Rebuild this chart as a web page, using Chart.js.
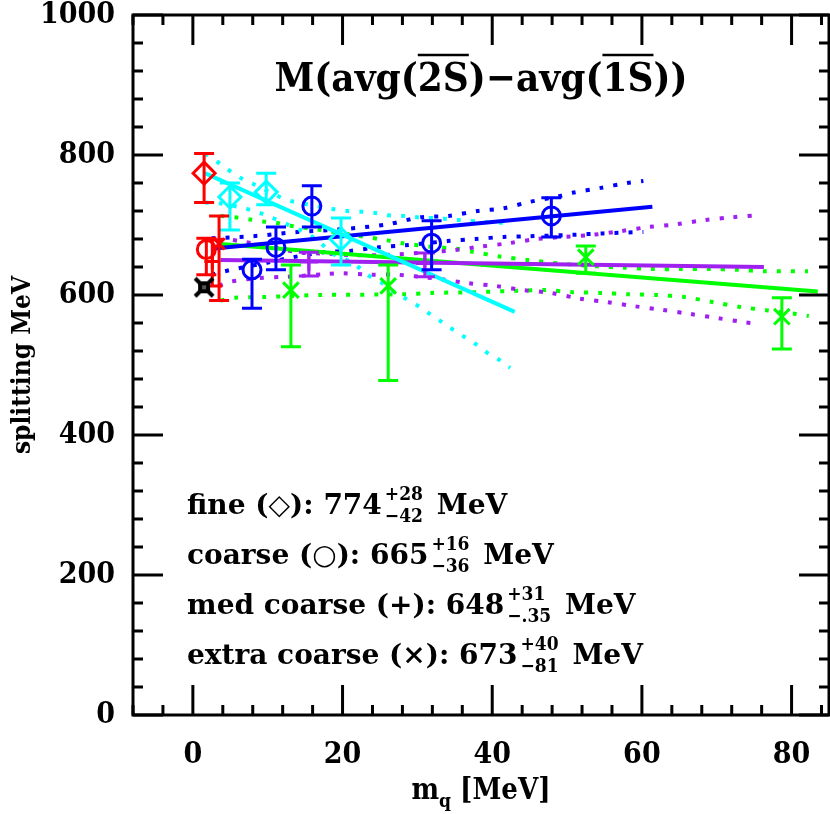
<!DOCTYPE html>
<html>
<head>
<meta charset="utf-8">
<script src="https://cdn.jsdelivr.net/npm/chart.js@4"></script>
<style>
  html, body { margin: 0; padding: 0; background: #fff; }
  canvas { display: block; }
</style>
</head>
<body>
<canvas id="c" width="830" height="814"></canvas>
<script>
// axis setup
const xRange = [-8, 85];
const yRange = [0, 1000];
const xTicks = [0, 20, 40, 60, 80];
const yTicks = [0, 200, 400, 600, 800, 1000];
const xMinorStep = 4;
const yMinorStep = 40;

// fine lattice (cyan diamonds)
const fineX = [4.95, 9.8, 19.8];
const fineY = [740, 747, 680];
const fineUp = [20, 27, 30];
const fineDn = [47, 18, 37];
const fineFitX = [1.6, 43];
const fineFitY = [774, 576];
const fineHiX = [1.6, 3.3, 4.7, 6.4, 8, 11.4, 13.2, 18.6, 20.6, 22.5, 24.4, 26.1, 28.1, 30, 33.6, 35.5, 39.4, 41.5];
const fineHiY = [802, 790, 779, 767, 759, 741, 734, 723, 720, 719, 717, 714, 713, 711, 709, 707, 704, 703];
const fineLoX = [1.6, 3.6, 7.2, 9, 10.7, 12.6, 14.3, 16, 17.4, 19, 20.6, 22.1, 23.6, 25.3, 26.8, 28.4, 30, 31.5, 33.2, 34.7, 36.3, 37.9, 39.4, 41, 42.4];
const fineLoY = [732, 731, 723, 717, 710, 701, 693, 683, 671, 657, 650, 640, 627, 617, 605, 595, 585, 574, 562, 551, 540, 529, 517, 507, 496];

// coarse lattice (blue circles)
const coarseX = [7.9, 11.1, 15.9, 31.9, 47.9];
const coarseY = [636, 668, 727, 674, 713];
const coarseUp = [15, 29, 29, 32, 26];
const coarseDn = [55, 32, 30, 38, 30];
const coarseFitX = [2.5, 61.4];
const coarseFitY = [666, 726];
const coarseHiX = [2.5, 8, 14, 20, 26, 30.4, 34.2, 38, 41.5, 45, 48.9, 50.7, 54.5, 58, 60.2];
const coarseHiY = [681, 684, 690, 694, 701, 711, 713, 720, 724, 733, 741, 746, 753, 760, 763];
const coarseLoX = [2.5, 4.3, 6, 9.9, 13.4, 17.4, 21, 24.6, 28.4, 34, 37.8, 41.5, 45.1, 50.7, 54.8, 60.2];
const coarseLoY = [629, 634, 638, 646, 654, 661, 663, 668, 671, 677, 680, 683, 684, 686, 688, 690];

// medium coarse lattice (purple pluses)
const medX = [15.5, 31];
const medY = [647, 645];
const medUp = [14, 15];
const medDn = [20, 19];
const medFitX = [3.7, 76.3];
const medFitY = [650, 640];
const medHiX = [3.5, 5, 6.7, 10.3, 14, 17.9, 21.4, 25, 30, 34.8, 38.4, 42.2, 46, 49.5, 53.4, 57, 60.8, 64.6, 68.3, 72, 75.8];
const medHiY = [679, 679, 676, 670, 661, 659, 657, 657, 660, 664, 669, 674, 680, 683, 686, 691, 697, 701, 707, 711, 714];
const medLoX = [3.5, 5, 8.7, 12.3, 14.1, 18, 19.9, 23.7, 27.3, 32.8, 36.7, 40.4, 44.2, 47.8, 51.6, 55.3, 59, 62.6, 66.4, 70.1, 73.8, 75.6];
const medLoY = [613, 619, 624, 626, 627, 630, 631, 629, 629, 623, 617, 613, 607, 603, 595, 590, 584, 579, 573, 567, 561, 559];

// extra coarse lattice (green crosses)
const xcoarseX = [13.1, 26.1, 52.5, 78.7];
const xcoarseY = [607, 613, 654, 569];
const xcoarseUp = [36, 30, 16, 27];
const xcoarseDn = [81, 135, 23, 46];
const xcoarseFitX = [3.7, 83.5];
const xcoarseFitY = [673, 605];
const xcoarseHiX = [3.7, 5.6, 7.6, 9.4, 11.2, 13, 17, 22.5, 26, 28, 31.7, 35.3, 37.3, 41, 44.7, 49, 54, 57.6, 61.6, 65.2, 69, 72.8, 76.4, 82.2];
const xcoarseHiY = [713, 711, 708, 705, 703, 699, 693, 684, 678, 674, 669, 666, 662, 655, 650, 645, 641, 639, 637, 637, 637, 636, 634, 634];
const xcoarseLoX = [3.7, 5.6, 9.4, 17, 28, 32, 37.5, 43.4, 47, 50.7, 54.5, 58.2, 62, 65.7, 69.4, 73.1, 76.8, 80.6, 82.3];
const xcoarseLoY = [592, 596, 597, 600, 601, 603, 604, 606, 607, 604, 603, 601, 600, 597, 590, 583, 578, 573, 570];

// chiral extrapolations (red) and reference value (black)
const extrapX = [1.5, 1.8, 2.6, 3.5];
const extrapY = [774, 665, 648, 673];
const extrapUp = [28, 16, 31, 40];
const extrapDn = [42, 36, 35, 81];
const expX = [1.5];
const expY = [611];

const annotations = [
  { label: 'fine (\u25C7): ', val: '774', up: '+28', dn: '\u221242' },
  { label: 'coarse (\u25CB): ', val: '665', up: '+16', dn: '\u221236' },
  { label: 'med coarse (+): ', val: '648', up: '+31', dn: '\u2212.35' },
  { label: 'extra coarse (\u00D7): ', val: '673', up: '+40', dn: '\u221281' }
];

const CYAN = '#00ffff', BLUE = '#0000ff', PURPLE = '#a020f0', GREEN = '#00ff00', RED = '#ff0000';
const FAM = '"DejaVu Serif Condensed", "DejaVu Serif", serif';
const FAM_WIDE = '"DejaVu Serif", serif';

const pts = (xs, ys) => xs.map((x, i) => ({ x, y: ys[i] }));

function fitLine(xs, ys, color) {
  return { type: 'line', data: pts(xs, ys), borderColor: color, borderWidth: 4,
    pointRadius: 0, fill: false, tension: 0, order: 5 };
}
function band(xs, ys, color) {
  return { type: 'line', data: pts(xs, ys), borderColor: color, borderWidth: 4,
    borderDash: [4, 10], borderCapStyle: 'butt', pointRadius: 0, fill: false,
    tension: 0.3, order: 6 };
}
function marks(xs, ys, up, dn, color, style, r) {
  return { type: 'scatter', data: pts(xs, ys), errUp: up, errDn: dn,
    borderColor: color, backgroundColor: 'rgba(0,0,0,0)', pointStyle: style,
    pointRadius: r, pointBorderWidth: 3, order: 2 };
}

// black burst marker
const burst = document.createElement('canvas');
burst.width = 22; burst.height = 22;
(function () {
  const b = burst.getContext('2d');
  b.strokeStyle = '#000'; b.lineWidth = 4;
  b.beginPath(); b.moveTo(2, 2); b.lineTo(20, 20); b.moveTo(20, 2); b.lineTo(2, 20); b.stroke();
  b.fillStyle = '#000'; b.fillRect(5, 5, 12, 12);
  b.fillStyle = '#555'; b.fillRect(9, 9, 4, 4);
})();

const datasets = [
  band(fineHiX, fineHiY, CYAN), band(fineLoX, fineLoY, CYAN),
  band(coarseHiX, coarseHiY, BLUE), band(coarseLoX, coarseLoY, BLUE),
  band(medHiX, medHiY, PURPLE), band(medLoX, medLoY, PURPLE),
  band(xcoarseHiX, xcoarseHiY, GREEN), band(xcoarseLoX, xcoarseLoY, GREEN),
  fitLine(fineFitX, fineFitY, CYAN), fitLine(coarseFitX, coarseFitY, BLUE),
  fitLine(medFitX, medFitY, PURPLE), fitLine(xcoarseFitX, xcoarseFitY, GREEN),
  marks(fineX, fineY, fineUp, fineDn, CYAN, 'rectRot', 11),
  marks(coarseX, coarseY, coarseUp, coarseDn, BLUE, 'circle', 9),
  marks(medX, medY, medUp, medDn, PURPLE, 'cross', 9),
  marks(xcoarseX, xcoarseY, xcoarseUp, xcoarseDn, GREEN, 'crossRot', 11),
  Object.assign(marks(extrapX, extrapY, extrapUp, extrapDn, RED,
    ['rectRot', 'circle', 'cross', 'crossRot'], [11, 9, 8, 8]), { order: 1 }),
  { type: 'scatter', data: pts(expX, expY), pointStyle: burst, pointRadius: 11, order: 0 }
];

// error bars, drawn right after their own dataset
const errorBars = {
  id: 'errorBars',
  afterDatasetDraw(chart, args) {
    const ds = chart.data.datasets[args.index];
    if (!ds.errUp) return;
    const { ctx, scales: { x, y } } = chart;
    ctx.save();
    ctx.strokeStyle = ds.borderColor; ctx.lineWidth = 3; ctx.lineCap = 'butt';
    ds.data.forEach((p, i) => {
      const px = x.getPixelForValue(p.x);
      const top = y.getPixelForValue(p.y + ds.errUp[i]);
      const bot = y.getPixelForValue(p.y - ds.errDn[i]);
      ctx.beginPath();
      ctx.moveTo(px, top); ctx.lineTo(px, bot);
      ctx.moveTo(px - 10, top); ctx.lineTo(px + 10, top);
      ctx.moveTo(px - 10, bot); ctx.lineTo(px + 10, bot);
      ctx.stroke();
    });
    ctx.restore();
  }
};

// frame with inward ticks on all sides
const frame = {
  id: 'frame',
  afterDatasetsDraw(chart) {
    const { ctx, chartArea: a, scales: { x, y } } = chart;
    ctx.save();
    ctx.strokeStyle = '#000'; ctx.lineWidth = 3;
    ctx.strokeRect(a.left, a.top, a.right - a.left, a.bottom - a.top);
    ctx.beginPath();
    for (let v = Math.ceil(xRange[0] / xMinorStep) * xMinorStep; v <= xRange[1]; v += xMinorStep) {
      const len = v % 20 === 0 ? 30 : 10;
      const px = x.getPixelForValue(v);
      ctx.moveTo(px, a.bottom); ctx.lineTo(px, a.bottom - len);
      ctx.moveTo(px, a.top); ctx.lineTo(px, a.top + len);
    }
    for (let v = yRange[0]; v <= yRange[1]; v += yMinorStep) {
      const len = v % 200 === 0 ? 30 : 10;
      const py = y.getPixelForValue(v);
      ctx.moveTo(a.left, py); ctx.lineTo(a.left + len, py);
      ctx.moveTo(a.right, py); ctx.lineTo(a.right - len, py);
    }
    ctx.stroke();
    ctx.restore();
  }
};

// titles and the extrapolation summary
const texts = {
  id: 'texts',
  afterDraw(chart) {
    const { ctx, chartArea: a } = chart;
    ctx.save();
    ctx.fillStyle = '#000'; ctx.strokeStyle = '#000';
    ctx.textBaseline = 'alphabetic'; ctx.textAlign = 'left';

    // title with overlines
    ctx.font = 'bold 40px ' + FAM;
    const parts = ['M(avg(', '2S', ')\u2212avg(', '1S', '))'];
    const total = parts.reduce((s, t) => s + ctx.measureText(t).width, 0);
    let tx = (a.left + a.right) / 2 - total / 2;
    const ty = 91;
    parts.forEach((t, i) => {
      const w = ctx.measureText(t).width;
      ctx.fillText(t, tx, ty);
      if (i === 1 || i === 3) {
        ctx.lineWidth = 2.5;
        ctx.beginPath(); ctx.moveTo(tx, ty - 36); ctx.lineTo(tx + w, ty - 36); ctx.stroke();
      }
      tx += w;
    });

    // summary lines
    annotations.forEach((an, i) => {
      const by = 514 + i * 50;
      let lx = 187;
      ctx.font = 'bold 28px ' + FAM_WIDE;
      const main = an.label + an.val;
      ctx.fillText(main, lx, by);
      lx += ctx.measureText(main).width + 3;
      ctx.font = 'bold 19px ' + FAM;
      ctx.fillText(an.up, lx, by - 14);
      ctx.fillText(an.dn, lx, by + 8);
      lx += Math.max(ctx.measureText(an.up).width, ctx.measureText(an.dn).width) + 4;
      ctx.font = 'bold 28px ' + FAM_WIDE;
      ctx.fillText(' MeV', lx, by);
    });

    // x axis title
    ctx.font = 'bold 29px ' + FAM;
    const m = 'm', rest = ' [MeV]';
    const wm = ctx.measureText(m).width, wr = ctx.measureText(rest).width;
    ctx.font = 'bold 19px ' + FAM;
    const wq = ctx.measureText('q').width;
    let ax = (a.left + a.right) / 2 - (wm + wq + wr) / 2;
    ctx.font = 'bold 29px ' + FAM;
    ctx.fillText(m, ax, 799); ax += wm;
    ctx.font = 'bold 19px ' + FAM;
    ctx.fillText('q', ax, 807); ax += wq;
    ctx.font = 'bold 29px ' + FAM;
    ctx.fillText(rest, ax, 799);

    // y axis title
    ctx.translate(30, (a.top + a.bottom) / 2);
    ctx.rotate(-Math.PI / 2);
    ctx.textAlign = 'center';
    ctx.font = 'bold 26px ' + FAM;
    ctx.fillText('splitting MeV', 0, 0);
    ctx.restore();
  }
};

const tickFont = { family: FAM, size: 30, weight: 'bold' };

new Chart(document.getElementById('c'), {
  type: 'scatter',
  data: { datasets },
  options: {
    responsive: false,
    animation: false,
    layout: { autoPadding: false, padding: { top: 15, right: 1, left: 0, bottom: 0 } },
    plugins: { legend: { display: false }, tooltip: { enabled: false } },
    scales: {
      x: {
        type: 'linear', min: xRange[0], max: xRange[1],
        grid: { display: false }, border: { display: false },
        afterBuildTicks: s => { s.ticks = xTicks.map(v => ({ value: v })); },
        afterFit: s => { s.height = 99; s.paddingLeft = 0; s.paddingRight = 0; },
        ticks: { font: tickFont, color: '#000', padding: 14, maxRotation: 0,
          callback: v => String(v) }
      },
      y: {
        type: 'linear', min: yRange[0], max: yRange[1],
        grid: { display: false }, border: { display: false },
        afterBuildTicks: s => { s.ticks = yTicks.map(v => ({ value: v })); },
        afterFit: s => { s.width = 133; s.paddingTop = 0; s.paddingBottom = 0; },
        ticks: { font: tickFont, color: '#000', padding: 10,
          callback: v => String(v) }
      }
    }
  },
  plugins: [errorBars, frame, texts]
});
</script>
</body>
</html>
